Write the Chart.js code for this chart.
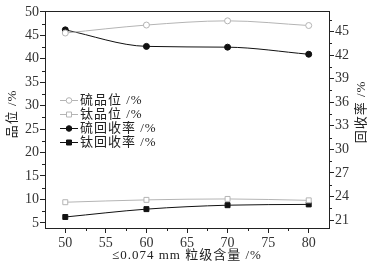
<!DOCTYPE html>
<html>
<head>
<meta charset="utf-8">
<script src="https://cdn.jsdelivr.net/npm/chart.js@4"></script>
<style>
  html, body { margin: 0; padding: 0; background: #fff; }
  #wrap { width: 376px; height: 266px; position: relative; }
</style>
</head>
<body>
<div id="wrap"><canvas id="c"></canvas></div>
<script>
// x: <=0.074 mm fraction content, %
const sizes = [50, 60, 70, 80];
// grades (left axis), %
const sGrade = [45.5, 47.2, 48.1, 47.1];
const tiGrade = [9.4, 9.9, 10.1, 9.8];
// recoveries (right axis), %
const sRecovery = [45.2, 43.1, 43.0, 42.1];
const tiRecovery = [21.4, 22.4, 22.9, 23.0];

const xTicks = [50, 55, 60, 65, 70, 75, 80];
const leftTicks = [5, 10, 15, 20, 25, 30, 35, 40, 45, 50];
const rightTicks = [21, 24, 27, 30, 33, 36, 39, 42, 45];
const legendLabels = ['硫品位 /%', '钛品位 /%', '硫回收率 /%', '钛回收率 /%'];

const FONT = '"Liberation Serif", "Noto Sans CJK SC", serif';
const GREY = '#b4b4b4';
const INK = '#222';

const pts = arr => arr.map((v, i) => ({x: sizes[i], y: v}));

// minor ticks, axis titles and the in-plot legend
const extras = {
  id: 'extras',
  afterDraw(chart) {
    const ctx = chart.ctx;
    const a = chart.chartArea;
    const {x, y, y1} = chart.scales;
    ctx.save();
    ctx.strokeStyle = INK;
    ctx.lineWidth = 1;
    ctx.beginPath();
    for (let v = 52.5; v < 82.5; v += 5) {
      const px = Math.round(x.getPixelForValue(v)) + 0.5;
      ctx.moveTo(px, a.bottom); ctx.lineTo(px, a.bottom + 3);
    }
    for (let v = 7.5; v < 50; v += 5) {
      const py = Math.round(y.getPixelForValue(v)) + 0.5;
      ctx.moveTo(a.left, py); ctx.lineTo(a.left - 3, py);
    }
    for (let v = 22.5; v < 47; v += 3) {
      const py = Math.round(y1.getPixelForValue(v)) + 0.5;
      ctx.moveTo(a.right, py); ctx.lineTo(a.right + 3, py);
    }
    ctx.stroke();

    ctx.fillStyle = INK;
    ctx.font = '13px ' + FONT;
    ctx.letterSpacing = '1px';
    ctx.textAlign = 'center';
    ctx.textBaseline = 'middle';
    ctx.fillText('≤0.074 mm 粒级含量 /%', (a.left + a.right) / 2, 256);
    ctx.save();
    ctx.translate(13, 114);
    ctx.rotate(-Math.PI / 2);
    ctx.fillText('品位 /%', 0, 0);
    ctx.restore();
    ctx.save();
    ctx.translate(362, 112);
    ctx.rotate(-Math.PI / 2);
    ctx.fillText('回收率 /%', 0, 0);
    ctx.restore();

    // legend
    const rows = [100, 114, 128, 142];
    chart.data.datasets.forEach((ds, i) => {
      const ly = rows[i] + 0.5;
      ctx.strokeStyle = ds.borderColor;
      ctx.beginPath();
      ctx.moveTo(60, ly); ctx.lineTo(78, ly);
      ctx.stroke();
      ctx.fillStyle = ds.pointBackgroundColor;
      ctx.strokeStyle = ds.borderColor;
      ctx.beginPath();
      if (ds.pointStyle === 'circle') ctx.arc(69, ly, 2.8, 0, Math.PI * 2);
      else ctx.rect(66.5, ly - 2.5, 5, 5);
      ctx.fill(); ctx.stroke();
      ctx.fillStyle = INK;
      ctx.textAlign = 'left';
      ctx.fillText(legendLabels[i], 80, rows[i] + 1);
    });
    ctx.restore();
  }
};

new Chart(document.getElementById('c'), {
  type: 'line',
  data: {
    datasets: [
      { label: legendLabels[0], data: pts(sGrade), yAxisID: 'y', borderColor: GREY, pointBackgroundColor: '#fff', pointStyle: 'circle', pointRadius: 3 },
      { label: legendLabels[1], data: pts(tiGrade), yAxisID: 'y', borderColor: GREY, pointBackgroundColor: '#fff', pointStyle: 'rect', pointRadius: 3.5 },
      { label: legendLabels[2], data: pts(sRecovery), yAxisID: 'y1', borderColor: '#111', pointBackgroundColor: '#111', pointStyle: 'circle', pointRadius: 3 },
      { label: legendLabels[3], data: pts(tiRecovery), yAxisID: 'y1', borderColor: '#111', pointBackgroundColor: '#111', pointStyle: 'rect', pointRadius: 3.5 },
    ]
  },
  options: {
    responsive: true,
    maintainAspectRatio: false,
    animation: false,
    layout: { padding: { top: 11, left: 0, right: 0, bottom: 0 } },
    elements: {
      line: { borderWidth: 1, cubicInterpolationMode: 'monotone' },
      point: { borderWidth: 1 }
    },
    plugins: { legend: { display: false }, tooltip: { enabled: false } },
    scales: {
      x: {
        type: 'linear', min: 47.5, max: 82.5,
        afterBuildTicks: s => { s.ticks = xTicks.map(v => ({value: v})); },
        afterFit: s => { s.height = 38; },
        border: { color: INK, width: 1 },
        grid: { drawOnChartArea: false, tickLength: 5, color: INK },
        ticks: { color: '#333', font: { family: FONT, size: 14 }, padding: 2, maxRotation: 0 }
      },
      y: {
        position: 'left', min: 3.9, max: 50.2,
        afterBuildTicks: s => { s.ticks = leftTicks.map(v => ({value: v})); },
        afterFit: s => { s.width = 45; },
        border: { color: INK, width: 1 },
        grid: { drawOnChartArea: false, tickLength: 5, color: INK },
        ticks: { color: '#333', font: { family: FONT, size: 14 }, padding: 1 }
      },
      y1: {
        position: 'right', min: 20, max: 47.6,
        afterBuildTicks: s => { s.ticks = rightTicks.map(v => ({value: v})); },
        afterFit: s => { s.width = 47; },
        border: { color: INK, width: 1 },
        grid: { drawOnChartArea: false, tickLength: 5, color: INK },
        ticks: { color: '#333', font: { family: FONT, size: 14 }, padding: 1 }
      },
      top: {
        position: 'top', type: 'linear', display: true,
        afterFit: s => { s.height = 0; },
        border: { color: INK, width: 1 },
        grid: { display: false }, ticks: { display: false }
      }
    }
  },
  plugins: [extras]
});
</script>
</body>
</html>
